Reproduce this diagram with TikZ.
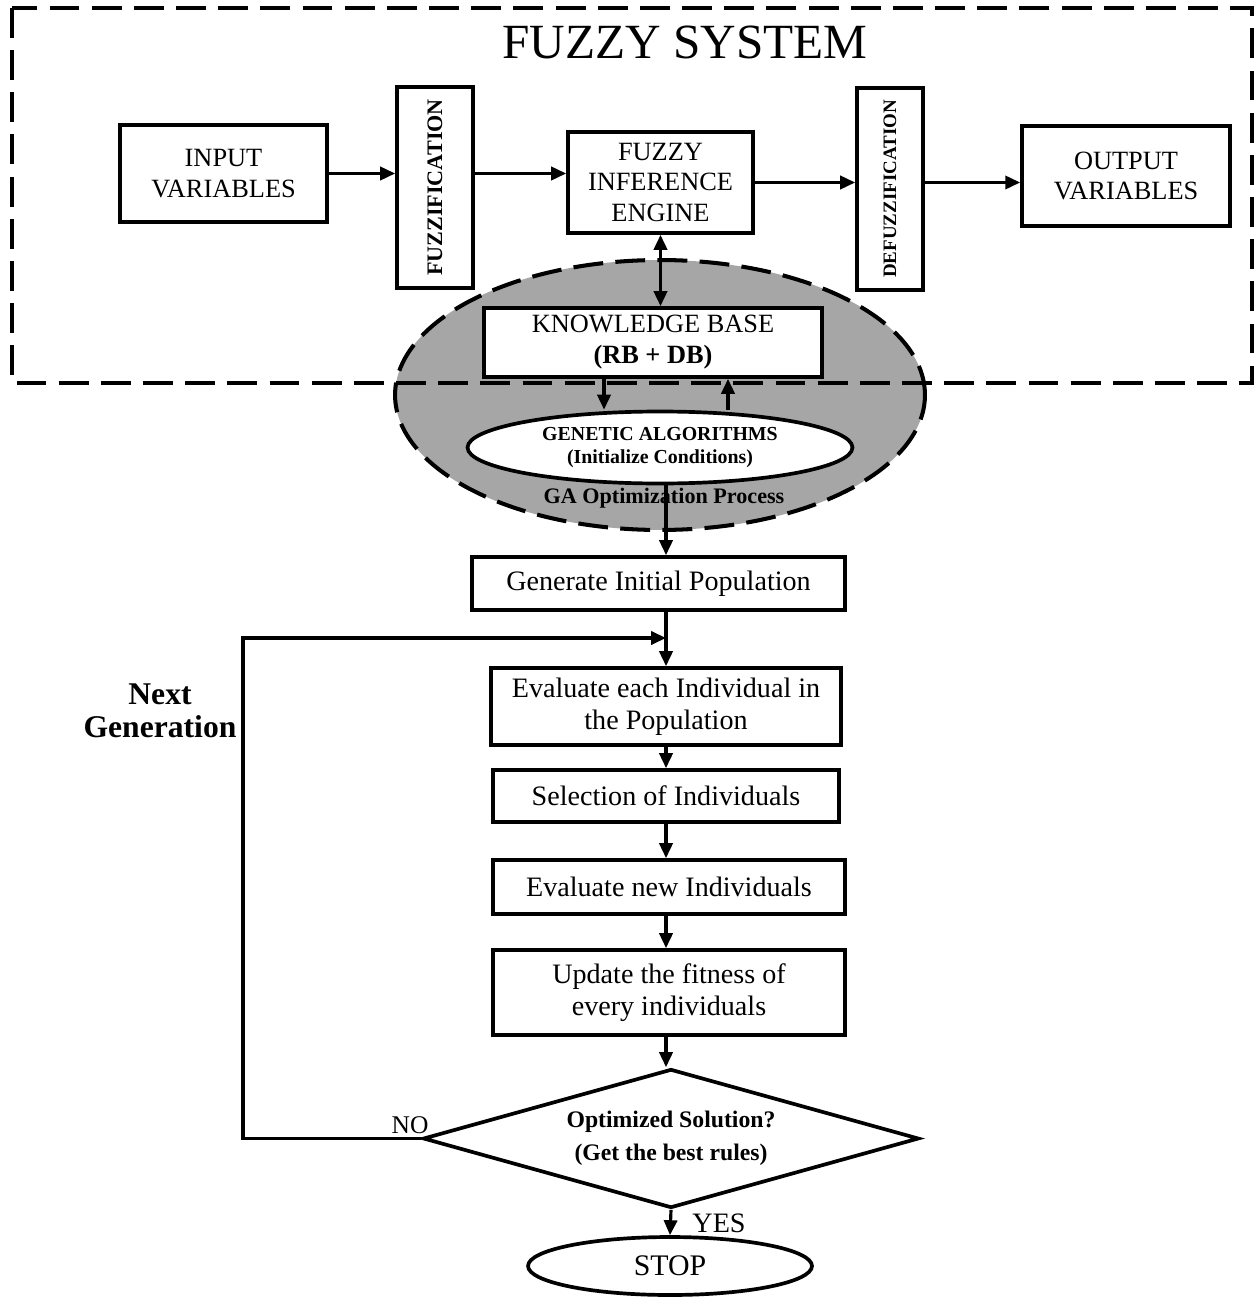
\documentclass[tikz,border=0pt]{standalone}
\usepackage{fontspec}
\setmainfont{Liberation Serif}
\usepackage{graphicx}
\usetikzlibrary{shapes.geometric,arrows.meta}

\begin{document}
\begin{tikzpicture}[x=0.02cm,y=-0.02cm,>={Triangle[length=8.5pt,width=7.5pt]},line width=1.8pt,
  up/.style={font=\fontsize{15}{17.6}\selectfont},
  low/.style={font=\fontsize{16}{18}\selectfont},
  box/.style={draw,line width=2.1pt,fill=white,align=center,inner sep=0pt},
  frame/.style={line width=2.3pt,dash pattern=on 17pt off 7pt}]
\useasboundingbox (0,0) rectangle (1256,1297);
% GA optimization area and fuzzy system frame
\node[draw,ellipse,frame,fill=black!35,minimum width=10.6cm,minimum height=5.4cm] (gaproc) at (660,395) {};
\draw[frame] (12,8) rectangle (1252,383);
\node[font=\fontsize{28}{30}\selectfont] (title) at (685,42) {FUZZY SYSTEM};
% fuzzy system
\node[box,up,minimum width=4.14cm,minimum height=1.94cm] (inp) at (223.5,173.5) {INPUT\\ VARIABLES};
\node[box,minimum width=1.52cm,minimum height=4.02cm] (fuzz) at (435,187.5) {\rotatebox{90}{\fontsize{12.6}{12.6}\selectfont\bfseries FUZZIFICATION}};
\node[box,up,minimum width=3.7cm,minimum height=2.02cm] (fie) at (660.5,182.5) {FUZZY\\ INFERENCE\\ ENGINE};
\node[box,minimum width=1.32cm,minimum height=4.04cm] (defuzz) at (890,189) {\rotatebox{90}{\fontsize{10.8}{10.8}\selectfont\bfseries DEFUZZIFICATION}};
\node[box,up,minimum width=4.16cm,minimum height=2cm] (out) at (1126,176) {OUTPUT\\ VARIABLES};
\node[box,up,minimum width=6.76cm,minimum height=1.38cm] (kb) at (653,342.5) {KNOWLEDGE BASE\\ \textbf{(RB + DB)}};
\node[box,ellipse,font=\fontsize{11.3}{12.8}\selectfont\bfseries,minimum width=7.7cm,minimum height=1.44cm] (gaalg) at (660,447.5) {GENETIC ALGORITHMS\\ (Initialize Conditions)};
\node[font=\fontsize{12.6}{14}\selectfont\bfseries] (gaopt) at (664,498) {GA Optimization Process};
% GA loop
\node[box,low,minimum width=7.46cm,minimum height=1.06cm] (gen) at (658.5,583.5) {Generate Initial Population};
\node[box,low,minimum width=7cm,minimum height=1.54cm] (eval) at (666,706.5) {Evaluate each Individual in\\ the Population};
\node[box,low,minimum width=6.92cm,minimum height=1.04cm] (sel) at (666,796) {Selection of Individuals};
\node[box,low,minimum width=7.04cm,minimum height=1.08cm] (evnew) at (669,887) {Evaluate new Individuals};
\node[box,low,minimum width=7.04cm,minimum height=1.7cm] (upd) at (669,992.5) {Update the fitness of\\ every individuals};
\node[box,diamond,aspect=3.5,font=\fontsize{13.5}{18.7}\selectfont\bfseries,minimum width=9.92cm,minimum height=2.78cm] (dec) at (671,1138.5) {Optimized Solution?\\ (Get the best rules)};
\node[box,ellipse,font=\fontsize{17}{18}\selectfont,minimum width=5.68cm,minimum height=1.16cm] (stop) at (670,1266) {STOP};
\node[font=\fontsize{18}{18.5}\selectfont\bfseries,align=center] (nextgen) at (160,711) {Next\\ Generation};
\node[font=\fontsize{14.5}{16}\selectfont] (no) at (410,1125) {NO};
\node[font=\fontsize{16}{18}\selectfont] (yes) at (719,1223) {YES};
\coordinate (back) at (243,638);
% connectors
\draw[->] (inp.east) -- (inp.east -| fuzz.west);
\draw[->] (inp.east -| fuzz.east) -- (inp.east -| fie.west);
\draw[->] (fie.east) -- (fie.east -| defuzz.west);
\draw[->] (fie.east -| defuzz.east) -- (fie.east -| out.west);
\draw[<->] (fie.south) -- (fie.south |- kb.north);
\draw[->] ([xshift=-0.98cm]kb.south) -- ([xshift=-0.98cm]kb.south |- gaalg.north);
\draw[<-] ([xshift=1.5cm]kb.south) -- ([xshift=1.5cm]kb.south |- gaalg.north);
\draw[->] (gaalg.south -| eval) -- (gen.north -| eval);
\draw[->] (gen.south -| eval) -- (eval.north);
\draw[->] (eval.south) -- (sel.north);
\draw[->] (sel.south) -- (sel.south |- evnew.north);
\draw[->] (evnew.south -| sel) -- (upd.north -| sel);
\draw[->] (upd.south -| sel) -- (dec.north -| sel);
\draw[->] (dec.south) -- (stop.north);
\draw[->] (dec.west) -| (back) -- (back -| eval);
\end{tikzpicture}
\end{document}
